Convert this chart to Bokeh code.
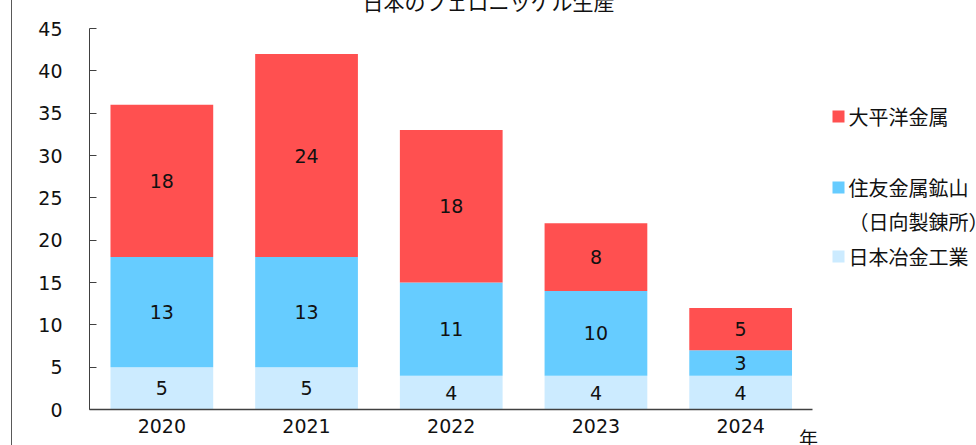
import numpy as np
from bokeh.plotting import figure
from bokeh.models import ColumnDataSource, FixedTicker, LinearAxis, Title
from bokeh.embed import file_html
from bokeh.resources import INLINE
from bokeh.core.properties import value

# ---------------- data ----------------
years = ["2020", "2021", "2022", "2023", "2024"]
nippon_yakin = [5, 5, 4, 4, 4]          # 日本冶金工業
sumitomo = [13, 13, 11, 10, 3]          # 住友金属鉱山（日向製錬所）
taiheiyo = [18, 24, 18, 8, 5]           # 大平洋金属
series_keys = ["nippon_yakin", "sumitomo", "taiheiyo"]
series_colors = ["#CCEBFF", "#66CCFF", "#FF5050"]
legend_names = ["大平洋金属", "住友金属鉱山", "日本冶金工業"]
legend_sub = "（日向製錬所）"
title_text = "日本のフェロニッケル生産"
x_unit = "年"
y_ticks = [0, 5, 10, 15, 20, 25, 30, 35, 40, 45]

# ---------------- layout helpers (page pixels -> data) ----------------
FL, FR, FT, FB = 89, 976, 28, 409     # frame edges on page
X0 = -0.5
X1 = 5.63
Y0, Y1 = 0, 45
sx = (FR - FL) / (X1 - X0)
sy = (FB - FT) / (Y1 - Y0)

def dx(px):
    return X0 + (px - FL) / sx

def dy(py):
    return (FB - py) / sy

DIGIT_FONT = "DejaVu Sans"
JP_FONT = "Noto Sans CJK JP"

xs = list(range(len(years)))
source = ColumnDataSource(dict(x=xs, nippon_yakin=nippon_yakin,
                               sumitomo=sumitomo, taiheiyo=taiheiyo))

CANVAS_LEFT, CANVAS_TOP = 12, -40
W, H = 964, 505
p = figure(width=W, height=H, x_range=(X0, X1), y_range=(Y0, Y1),
           output_backend="svg", toolbar_location=None,
           min_border_left=FL - CANVAS_LEFT, min_border_right=0,
           min_border_top=FT - CANVAS_TOP, min_border_bottom=CANVAS_TOP + H - FB,
           styles={"margin-left": "11px", "margin-top": "-40px",
                   "margin-bottom": "-30px", "margin-right": "0px",
                   "border-left": "1px solid #595959"})
p.title = Title(text=title_text, align="left", offset=362 - FL,
                standoff=26, text_font=JP_FONT, text_font_size="21px",
                text_font_style="normal", text_color="#111111")
p.outline_line_color = None
p.xgrid.visible = False
p.ygrid.visible = False
p.background_fill_color = "white"
p.border_fill_color = "white"

p.vbar_stack(series_keys, x="x", width=0.71, color=series_colors,
             line_color=None, source=source)

# segment value labels
vals = np.array([nippon_yakin, sumitomo, taiheiyo], dtype=float)
bottoms = np.vstack([np.zeros(len(years)), np.cumsum(vals, axis=0)[:-1]])
mids = bottoms + vals / 2
lab_x, lab_y, lab_t = [], [], []
for i in range(vals.shape[0]):
    for j in range(vals.shape[1]):
        lab_x.append(xs[j]); lab_y.append(mids[i, j]); lab_t.append(str(int(vals[i, j])))
p.text(x=lab_x, y=lab_y, text=lab_t, text_align="center", text_baseline="middle",
       text_font=value(DIGIT_FONT), text_font_size="19px", text_color="#111111")

# axes
xa = p.xaxis[0]
xa.ticker = FixedTicker(ticks=xs)
xa.major_label_overrides = {i: y for i, y in enumerate(years)}
xa.bounds = (X0, len(years) - 0.5)
xa.major_tick_in = 0
xa.major_tick_out = 0
xa.minor_tick_in = 0
xa.minor_tick_out = 0
xa.axis_line_color = "#404040"
xa.axis_line_width = 1.3
xa.major_label_standoff = 9
xa.major_label_text_font = DIGIT_FONT
xa.major_label_text_font_size = "19px"
xa.major_label_text_color = "#111111"

# unit "年" as a second, line-less axis placed under the first
unit_x = dx(808)
ua = LinearAxis(ticker=FixedTicker(ticks=[unit_x]),
                major_label_overrides={unit_x: x_unit},
                axis_line_color=None, major_tick_in=0, major_tick_out=0,
                minor_tick_in=0, minor_tick_out=0, major_label_standoff=-12,
                major_label_text_font=JP_FONT, major_label_text_font_size="19px",
                major_label_text_color="#111111")
p.add_layout(ua, "below")

ya = p.yaxis[0]
ya.ticker = FixedTicker(ticks=y_ticks)
ya.bounds = (Y0, Y1)
ya.major_tick_in = 7
ya.major_tick_out = 0
ya.minor_tick_in = 0
ya.minor_tick_out = 0
ya.axis_line_color = "#404040"
ya.major_tick_line_color = "#404040"
ya.major_label_standoff = 27
ya.major_label_text_font = DIGIT_FONT
ya.major_label_text_font_size = "19px"
ya.major_label_text_color = "#111111"

# legend (manual)
leg_colors = [series_colors[2], series_colors[1], series_colors[0]]
leg_py = [116, 187, 256]
p.scatter(x=[dx(838)] * 3, y=[dy(v) for v in leg_py], marker="square", size=12,
          color=leg_colors, line_color=None)
p.text(x=[dx(848)] * 4, y=[dy(116), dy(187), dy(221), dy(256)],
       text=[legend_names[0], legend_names[1], legend_sub, legend_names[2]],
       text_align="left", text_baseline="middle",
       text_font=value(JP_FONT), text_font_size="20px", text_color="#111111")

open("out.html", "w").write(file_html(p, INLINE))
